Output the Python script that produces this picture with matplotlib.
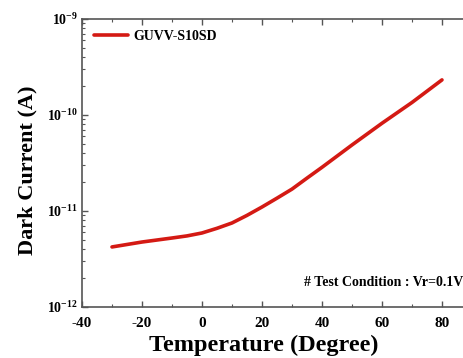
import matplotlib.pyplot as plt
from matplotlib.ticker import LogLocator, MultipleLocator, FixedLocator
import numpy as np

plt.rcParams['font.family'] = ['Liberation Serif', 'DejaVu Serif']
plt.rcParams['mathtext.fontset'] = 'custom'
plt.rcParams['mathtext.rm'] = 'Liberation Serif:bold'
plt.rcParams['mathtext.bf'] = 'Liberation Serif:bold'
plt.rcParams['axes.unicode_minus'] = False

# Dark current vs temperature
temperature = [-30, -20, -10, -5, 0, 5, 10, 15, 20, 25, 30, 35, 40, 50, 60, 70, 80]
dark_current = [4.22e-12, 4.75e-12, 5.23e-12, 5.5e-12, 5.9e-12, 6.6e-12, 7.5e-12,
                9.0e-12, 1.10e-11, 1.36e-11, 1.69e-11, 2.2e-11, 2.85e-11,
                4.87e-11, 8.2e-11, 1.35e-10, 2.32e-10]
series_name = 'GUVV-S10SD'

fig = plt.figure(figsize=(4.64, 3.58), dpi=100)
ax = fig.add_axes([0.1767, 0.1425, 0.8405, 0.8045])

ax.plot(temperature, dark_current, color='#d41a14', linewidth=2.6,
        label=series_name, solid_capstyle='round', solid_joinstyle='round')

ax.set_yscale('log')
ax.set_xlim(-40, 90)
ax.set_ylim(1e-12, 1e-9)

ax.xaxis.set_major_locator(FixedLocator([-40, -20, 0, 20, 40, 60, 80]))
ax.xaxis.set_minor_locator(MultipleLocator(10))
ax.yaxis.set_major_locator(LogLocator(base=10))
ax.yaxis.set_minor_locator(LogLocator(base=10, subs=np.arange(2, 10)))
ax.yaxis.set_major_formatter(plt.FuncFormatter(
    lambda v, p: r'$\mathbf{10^{%d}}$' % round(np.log10(v))))

ax.tick_params(which='both', direction='in', top=True, right=False,
               color='#555555')
ax.tick_params(which='major', length=4, width=1, labelsize=11, pad=7)
ax.tick_params(which='minor', length=2, width=0.8)
ax.tick_params(axis='y', which='major', labelsize=10, pad=3)
for lbl in ax.get_xticklabels():
    lbl.set_fontweight('bold')
for s in ax.spines.values():
    s.set_color('#555555')
    s.set_linewidth(1.2)

fig.text(264 / 464, (358 - 345) / 358, 'Temperature (Degree)', fontsize=17.5,
         fontweight='bold', ha='center', va='center')
fig.text(27 / 464, (358 - 170) / 358, 'Dark Current (A)', fontsize=16,
         fontweight='bold', ha='center', va='center', rotation=90)

ax.legend(loc='upper left', frameon=False, prop={'weight': 'bold', 'size': 10},
          handlelength=2.4, handletextpad=0.4, borderaxespad=0.5,
          bbox_to_anchor=(0.0, 1.005))

fig.text(0.999, (358 - 282) / 358, '# Test Condition : Vr=0.1V',
         ha='right', va='center', fontsize=10, fontweight='bold')

fig.savefig('out.png', dpi=100)
